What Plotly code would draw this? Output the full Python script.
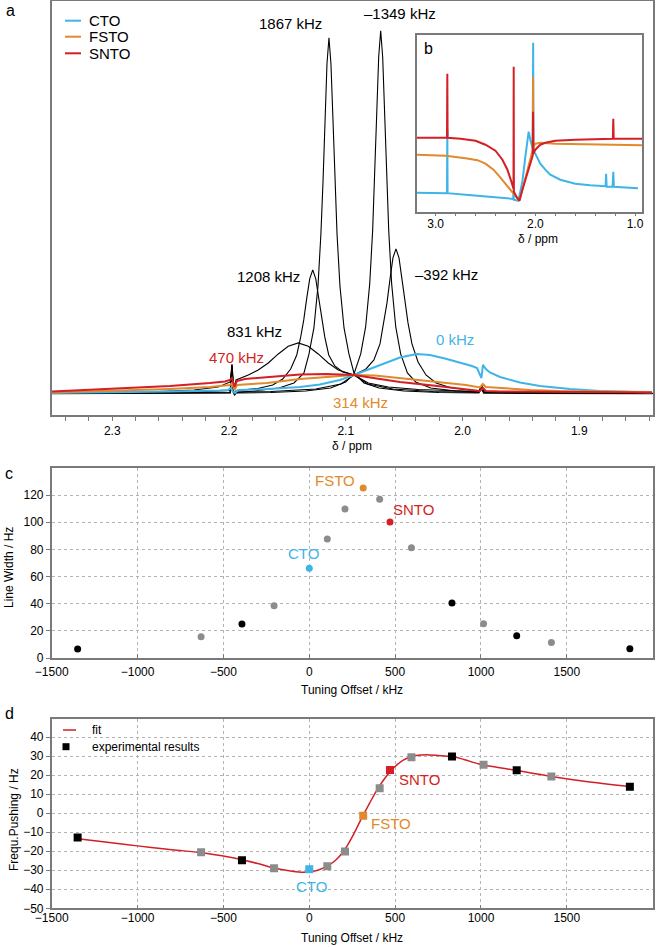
import plotly.graph_objects as go

FONT = "Liberation Sans, Arial, sans-serif"
BLUE = "#3FB4E8"
ORANGE = "#DF8A2C"
RED = "#D31F25"
GRAY = "#8C8C8C"
FRAME = "#7A7A7A"
GRID = "#B4B4B4"

# ---------------- panel a : spectra (ppm, intensity) ----------------
ppm_1867 = [2.3516, 2.26, 2.2087, 2.199, 2.1975, 2.1962, 2.1952, 2.194, 2.1787, 2.1573, 2.1444, 2.1358,
            2.1315, 2.1273, 2.1238, 2.1213, 2.1195, 2.1178, 2.1161, 2.1144, 2.1127, 2.1110, 2.1093,
            2.1075, 2.1050, 2.1015, 2.0973, 2.0930, 2.0844, 2.0715, 2.0501, 2.0201, 1.9860, 1.9835,
            1.9820, 1.95, 1.837]
int_1867 = [0.5, 0.8, 1.3, 1.3, 28, 1.3, -1, 1.4, 3, 6, 11, 21,
            40, 66, 108, 160, 212, 275, 330, 356, 330, 275, 212,
            160, 108, 66, 40, 21, 11, 6, 3, 1.5, 1.1, 6,
            0.9, 0.6, 0.4]

ppm_m1349 = [2.3516, 2.26, 2.2087, 2.199, 2.1975, 2.1962, 2.1952, 2.194, 2.1644, 2.1344, 2.1130, 2.1001,
             2.0930, 2.0872, 2.0830, 2.0795, 2.0770, 2.0752, 2.0735, 2.0718, 2.0701, 2.0684, 2.0667,
             2.0650, 2.0632, 2.0607, 2.0572, 2.0530, 2.0472, 2.0401, 2.0272, 2.0058, 1.9860, 1.9835,
             1.9820, 1.9758, 1.95, 1.837]
int_m1349 = [0.4, 0.6, 0.9, 1.0, 27, 1.0, -1, 1.0, 1.5, 3, 6, 12,
             20, 40, 67, 110, 163, 216, 280, 337, 363, 337, 280,
             216, 163, 110, 67, 40, 21, 12, 6, 3, 2, 8,
             1.8, 1.5, 1.0, 0.5]

ppm_1208 = [2.3516, 2.30, 2.23, 2.199, 2.1975, 2.1962, 2.1952, 2.194, 2.1754, 2.1626, 2.1540, 2.1472,
            2.1420, 2.1386, 2.1360, 2.1334, 2.1309, 2.1283, 2.1257, 2.1232, 2.1206, 2.1180, 2.1146,
            2.1094, 2.1026, 2.0929, 2.0812, 2.0597, 2.0255, 1.9860, 1.9835, 1.9820, 1.95, 1.837]
int_1208 = [0.8, 1.0, 2, 3.5, 29, 3, 1, 3.2, 5.5, 9, 15, 25,
            39, 57, 74, 96, 115, 124, 115, 96, 74, 57, 39,
            28, 22, 19, 10, 5, 2.5, 1.8, 7, 1.5, 1.0, 0.5]

ppm_m392 = [2.3516, 2.28, 2.23, 2.199, 2.1975, 2.1962, 2.1952, 2.194, 2.1641, 2.1256, 2.1041, 2.0930,
            2.0827, 2.0759, 2.0707, 2.0673, 2.0647, 2.0621, 2.0596, 2.0570, 2.0544, 2.0519, 2.0493,
            2.0467, 2.0433, 2.0381, 2.0313, 2.0227, 2.0099, 1.9884, 1.9860, 1.9835, 1.9820, 1.95,
            1.90, 1.837]
int_m392 = [0.6, 1.0, 1.5, 1.8, 28, 1.8, 0, 2, 2.5, 5, 10, 19,
            25, 34, 50, 71, 91, 115, 136, 145, 136, 115, 91,
            71, 50, 32, 19, 11, 6.3, 3, 2.8, 9, 2.5, 1.6,
            0.9, 0.6]

ppm_831 = [2.3516, 2.30, 2.26, 2.23, 2.2093, 2.199, 2.1975, 2.1962, 2.1952, 2.194, 2.1835, 2.1750,
           2.1664, 2.1578, 2.1493, 2.1407, 2.1321, 2.1236, 2.1150, 2.1064, 2.0930, 2.0807, 2.0636,
           2.0379, 2.0036, 1.9860, 1.9835, 1.9820, 1.95, 1.837]
int_831 = [1, 1.5, 2.5, 4, 7, 12, 30, 11, 8, 14, 19, 24,
           31, 40, 47.7, 51, 47.7, 40, 31, 24, 19, 11, 7,
           4.5, 3, 2.5, 7, 2, 1.5, 0.8]

ppm_cto = [2.3516, 2.302, 2.2506, 2.2078, 2.2009, 2.1984, 2.1966, 2.1949, 2.1924, 2.1735, 2.1564, 2.1392,
           2.1221, 2.105, 2.093, 2.0793, 2.0665, 2.0536, 2.0393, 2.0279, 2.0151, 2.0022, 1.9919,
           1.9876, 1.9851, 1.9838, 1.9825, 1.98, 1.9765, 1.9679, 1.9508, 1.9337, 1.9079, 1.8823, 1.8378]
int_cto = [1, 1.5, 2.5, 3.5, 4, 6, 2, 1, 4, 4.5, 5.5, 7,
           9.5, 14, 19, 25, 31, 36.5, 40, 39, 35.5, 31.5, 28,
           26, 18, 16, 29, 25, 21.5, 17, 11.5, 8, 5, 3, 1.5]

ppm_snto = [2.3516, 2.302, 2.2506, 2.2164, 2.2035, 2.1992, 2.1975, 2.1953, 2.1932, 2.1864, 2.1675, 2.1392,
            2.117, 2.093, 2.0707, 2.0536, 2.0253, 1.997, 1.9851, 1.9825, 1.98, 1.9679, 1.9165, 1.8378]
int_snto = [2.5, 5, 8, 11, 12.5, 14, 16, 7, 13, 15, 17, 19.5,
            20, 19, 15, 12, 8.5, 4.5, 3, 6, 3, 2.5, 2, 1.5]

ppm_fsto = [2.3516, 2.302, 2.2506, 2.2164, 2.2035, 2.1992, 2.1975, 2.1953, 2.1932, 2.1675, 2.1392, 2.1135,
            2.093, 2.075, 2.0536, 2.0253, 1.997, 1.9851, 1.9825, 1.98, 1.9679, 1.9422, 1.9165, 1.8378]
int_fsto = [1.5, 3, 5, 7, 8, 9, 11, 4, 9, 11, 15, 17.5,
            19, 18.5, 16, 12.5, 9, 6.5, 10, 7, 6, 4, 3, 2]

# ---------------- panel b : inset spectra ----------------
b_ppm_cto = [3.19, 2.9, 2.886, 2.883, 2.880, 2.7, 2.5, 2.3, 2.24, 2.222, 2.219, 2.216, 2.17, 2.13, 2.10,
             2.067, 2.05, 2.03, 2.026, 2.022, 2.018, 2.0, 1.98, 1.95, 1.9, 1.85, 1.75, 1.6, 1.45, 1.30,
             1.295, 1.29, 1.285, 1.225, 1.218, 1.212, 1.1, 0.97]
b_int_cto = [19, 18.5, 18.5, 82, 18.5, 17, 15.5, 14, 13, 12.5, 22, 12, 11, 30, 55,
             80, 72, 64, 63, 169, 60, 58, 54, 48, 42, 37, 32, 28, 26.5, 25.5,
             25.5, 38, 25, 25, 40, 25, 24, 23.5]

b_ppm_fsto = [3.19, 2.9, 2.7, 2.58, 2.5, 2.42, 2.35, 2.3, 2.25, 2.2, 2.16, 2.13, 2.10, 2.06, 2.03,
              2.026, 2.023, 2.020, 2.0, 1.95, 1.8, 1.6, 1.4, 1.2, 0.93]
b_int_fsto = [57, 56, 53.5, 51.5, 48, 42, 34, 28, 21.5, 15, 11, 22, 33, 50, 60,
              62, 135, 65, 68, 69, 68, 67.5, 67, 67, 66.5]

b_ppm_snto = [3.19, 2.95, 2.886, 2.883, 2.880, 2.75, 2.6, 2.5, 2.4, 2.33, 2.28, 2.24, 2.222, 2.219,
              2.217, 2.215, 2.19, 2.16, 2.13, 2.10, 2.06, 2.026, 2.023, 2.020, 2.0, 1.95, 1.9, 1.8,
              1.6, 1.4, 1.25, 1.222, 1.218, 1.214, 1.1, 0.93]
b_int_snto = [74, 74.5, 74, 138, 74, 73, 71, 67, 61, 52, 42, 30, 23, 23,
              145, 20, 15, 11, 22, 32, 45, 56, 100, 58, 62, 67, 69, 71,
              72, 72.5, 73, 73, 93, 73, 73, 73]

# ---------------- panel c : line widths ----------------
c_black_x = [-1349, -392, 831, 1208, 1867]
c_black_y = [6.6, 25.0, 40.5, 16.4, 6.9]
c_gray_x = [-630, -205, 105, 208, 410, 595, 1015, 1410]
c_gray_y = [15.7, 38.5, 87.6, 109.7, 116.8, 81.2, 25.3, 11.5]
c_cto_x, c_cto_y = [0], [66.0]
c_fsto_x, c_fsto_y = [314], [125.2]
c_snto_x, c_snto_y = [470], [100.1]

# ---------------- panel d : frequency pushing ----------------
d_black_x = [-1349, -392, 831, 1208, 1867]
d_black_y = [-12.8, -24.8, 29.8, 22.5, 13.8]
d_gray_x = [-630, -205, 105, 208, 410, 595, 1015, 1410]
d_gray_y = [-20.5, -29.0, -27.9, -20.1, 13.1, 29.4, 25.4, 19.2]
d_cto_x, d_cto_y = [0], [-29.5]
d_fsto_x, d_fsto_y = [314], [-1.4]
d_snto_x, d_snto_y = [470], [22.7]
fit_x = [-1349, -1200, -1000, -800, -630, -500, -392, -300, -200, -100, -30, 0, 50, 100, 150, 200, 250,
         300, 350, 400, 450, 500, 550, 600, 650, 700, 750, 831, 900, 1000, 1100, 1208, 1300, 1410,
         1600, 1867]
fit_y = [-13.5, -15, -17.2, -19.2, -20.8, -22.5, -24.5, -26.5, -29, -30.5, -31, -30.8, -30, -28, -25,
         -20, -12.5, -3.5, 5, 13, 19.5, 24.5, 28, 29.8, 30.5, 30.6, 30.3, 29.7, 28.2, 25.5, 24, 22.4,
         21, 19.3, 16.8, 14]

W, H = 665, 947


def px(x):
    return x / W


def py(y):
    return 1 - y / H


fig = go.Figure()

# panel a traces
for xs, ys in [(ppm_831, int_831), (ppm_1208, int_1208), (ppm_m392, int_m392),
               (ppm_1867, int_1867), (ppm_m1349, int_m1349)]:
    fig.add_trace(go.Scatter(x=xs, y=ys, mode="lines", line=dict(color="black", width=1.1),
                             xaxis="x", yaxis="y", showlegend=False, hoverinfo="skip"))
for xs, ys, col in [(ppm_cto, int_cto, BLUE), (ppm_fsto, int_fsto, ORANGE), (ppm_snto, int_snto, RED)]:
    fig.add_trace(go.Scatter(x=xs, y=ys, mode="lines", line=dict(color=col, width=2),
                             xaxis="x", yaxis="y", showlegend=False, hoverinfo="skip"))

# inset b traces
for xs, ys, col in [(b_ppm_cto, b_int_cto, BLUE), (b_ppm_fsto, b_int_fsto, ORANGE),
                    (b_ppm_snto, b_int_snto, RED)]:
    fig.add_trace(go.Scatter(x=xs, y=ys, mode="lines", line=dict(color=col, width=2),
                             xaxis="x2", yaxis="y2", showlegend=False, hoverinfo="skip"))

# panel c traces
for xs, ys, col in [(c_gray_x, c_gray_y, GRAY), (c_black_x, c_black_y, "black"),
                    (c_cto_x, c_cto_y, BLUE), (c_fsto_x, c_fsto_y, ORANGE), (c_snto_x, c_snto_y, RED)]:
    fig.add_trace(go.Scatter(x=xs, y=ys, mode="markers", marker=dict(color=col, size=7, symbol="circle"),
                             xaxis="x3", yaxis="y3", showlegend=False, hoverinfo="skip"))

# panel d traces
fig.add_trace(go.Scatter(x=fit_x, y=fit_y, mode="lines", line=dict(color=RED, width=1.5, shape="spline"),
                         xaxis="x4", yaxis="y4", showlegend=False, hoverinfo="skip"))
for xs, ys, col in [(d_gray_x, d_gray_y, GRAY), (d_black_x, d_black_y, "black"),
                    (d_cto_x, d_cto_y, BLUE), (d_fsto_x, d_fsto_y, ORANGE), (d_snto_x, d_snto_y, RED)]:
    fig.add_trace(go.Scatter(x=xs, y=ys, mode="markers", marker=dict(color=col, size=8, symbol="square"),
                             xaxis="x4", yaxis="y4", showlegend=False, hoverinfo="skip"))

XDOM = [px(51.7), px(652.7)]
tickfont = dict(family=FONT, size=12, color="black")
frame = dict(showline=True, linecolor=FRAME, linewidth=1.5, mirror=True, zeroline=False)

fig.update_layout(
    width=W, height=H, margin=dict(l=0, r=0, t=0, b=0),
    paper_bgcolor="white", plot_bgcolor="white", hovermode=False,
    font=dict(family=FONT, size=12, color="black"),
    xaxis=dict(domain=XDOM, range=[2.3519, 1.8371], anchor="y", showgrid=False,
               tick0=1.9, dtick=0.1, tickformat=".1f", ticks="outside", ticklen=4, tickcolor=FRAME,
               minor=dict(tick0=1.9, dtick=0.02, ticks="outside", ticklen=4, tickcolor=FRAME),
               tickfont=tickfont, automargin=False, **frame),
    yaxis=dict(domain=[py(415), py(0.7)], range=[-21, 393], anchor="x", showgrid=False,
               showticklabels=False, ticks="", automargin=False, **frame),
    xaxis2=dict(domain=[px(416.7), px(642.3)], range=[3.19, 0.927], anchor="y2", showgrid=False,
                tick0=1.0, dtick=1.0, tickformat=".1f", ticks="outside", ticklen=3, tickcolor=FRAME,
                minor=dict(tick0=1.0, dtick=0.2, ticks="outside", ticklen=3, tickcolor=FRAME),
                ticklabelstandoff=-3, tickfont=tickfont, automargin=False, **frame),
    yaxis2=dict(domain=[py(211.7), py(35)], range=[0, 176.7], anchor="x2", showgrid=False,
                showticklabels=False, ticks="", automargin=False, **frame),
    xaxis3=dict(domain=XDOM, range=[-1500, 2000], anchor="y3", dtick=500, showgrid=True,
                gridcolor=GRID, griddash="dot", gridwidth=1, ticks="inside", ticklen=4, tickcolor=FRAME,
                ticklabelstandoff=2, tickfont=tickfont, automargin=False, **frame),
    yaxis3=dict(domain=[py(658), py(467.7)], range=[0, 140.1], anchor="x3",
                tickvals=[0, 20, 40, 60, 80, 100, 120], showgrid=True, gridcolor=GRID, griddash="dot",
                gridwidth=1, ticks="outside", ticklen=4, tickcolor=FRAME, tickfont=tickfont,
                automargin=False, **frame),
    xaxis4=dict(domain=XDOM, range=[-1500, 2000], anchor="y4", dtick=500, showgrid=True,
                gridcolor=GRID, griddash="dot", gridwidth=1, ticks="inside", ticklen=4, tickcolor=FRAME,
                ticklabelstandoff=-2, tickfont=tickfont, automargin=False, **frame),
    yaxis4=dict(domain=[py(908.3), py(719.3)], range=[-50, 49.3], anchor="x4",
                tickvals=[-50, -40, -30, -20, -10, 0, 10, 20, 30, 40], showgrid=True, gridcolor=GRID,
                griddash="dot", gridwidth=1, ticks="outside", ticklen=4, tickcolor=FRAME,
                tickfont=tickfont, automargin=False, **frame),
)

ann = []


def paper_text(text, x, y, size=12, color="black", xanchor="center", angle=0):
    ann.append(dict(text=text, x=px(x), y=py(y), xref="paper", yref="paper", showarrow=False,
                    xanchor=xanchor, yanchor="middle", textangle=angle,
                    font=dict(family=FONT, size=size, color=color)))


def data_text(text, x, y, xr, yr, size=15, color="black"):
    ann.append(dict(text=text, x=x, y=y, xref=xr, yref=yr, showarrow=False,
                    xanchor="center", yanchor="middle", font=dict(family=FONT, size=size, color=color)))


# panel letters
paper_text("a", 4, 11, size=16, xanchor="left")
paper_text("b", 428, 49, size=16)
paper_text("c", 9, 474, size=16)
paper_text("d", 9, 713, size=16)

# axis titles
paper_text("δ / ppm", 352, 446, size=12)
paper_text("δ / ppm", 538, 239, size=12)
paper_text("Tuning Offset / kHz", 352, 690, size=12)
paper_text("Tuning Offset / kHz", 352, 938, size=12)
paper_text("Line Width / Hz", 9, 568, size=12, angle=-90)
paper_text("Frequ.Pushing / Hz", 14, 820, size=12, angle=-90)

# legend a
for yy, lab in [(20.7, "CTO"), (36.7, "FSTO"), (53.3, "SNTO")]:
    paper_text(lab, 87, yy, size=15, xanchor="left")
# legend d
paper_text("fit", 90, 730, size=12, xanchor="left")
paper_text("experimental results", 90, 746.7, size=12, xanchor="left")

# panel a peak labels (data coordinates)
data_text("1867 kHz", 2.1474, 370, "x", "y")
data_text("\u20131349 kHz", 2.0536, 380, "x", "y")
data_text("1208 kHz", 2.1666, 117, "x", "y")
data_text("\u2013392 kHz", 2.0136, 119, "x", "y")
data_text("831 kHz", 2.1786, 62, "x", "y")
data_text("470 kHz", 2.1932, 36, "x", "y", color=RED)
data_text("0 kHz", 2.0064, 54, "x", "y", color=BLUE)
data_text("314 kHz", 2.0878, -9, "x", "y", color=ORANGE)

# panel c labels
data_text("FSTO", 150, 131, "x3", "y3", color=ORANGE)
data_text("SNTO", 607, 109.5, "x3", "y3", color=RED)
data_text("CTO", -35, 76.6, "x3", "y3", color=BLUE)
# panel d labels
data_text("SNTO", 644, 17.8, "x4", "y4", color=RED)
data_text("FSTO", 478, -5.2, "x4", "y4", color=ORANGE)
data_text("CTO", 12, -38.6, "x4", "y4", color=BLUE)

shapes = []
for yy, col in [(20.7, BLUE), (36.7, ORANGE), (53.3, RED)]:
    shapes.append(dict(type="line", xref="paper", yref="paper", x0=px(65), x1=px(81), y0=py(yy), y1=py(yy),
                       line=dict(color=col, width=2)))
shapes.append(dict(type="line", xref="paper", yref="paper", x0=px(63), x1=px(76), y0=py(730), y1=py(730),
                   line=dict(color=RED, width=1.5)))
shapes.append(dict(type="rect", xref="paper", yref="paper", x0=px(62.5), x1=px(69.5), y0=py(750.2),
                   y1=py(743.2), line=dict(width=0), fillcolor="black"))

fig.update_layout(annotations=ann, shapes=shapes)
fig.write_html("out.html", config={"displayModeBar": False},
               post_script="document.body.style.margin='0px';document.body.style.overflow='hidden';")
